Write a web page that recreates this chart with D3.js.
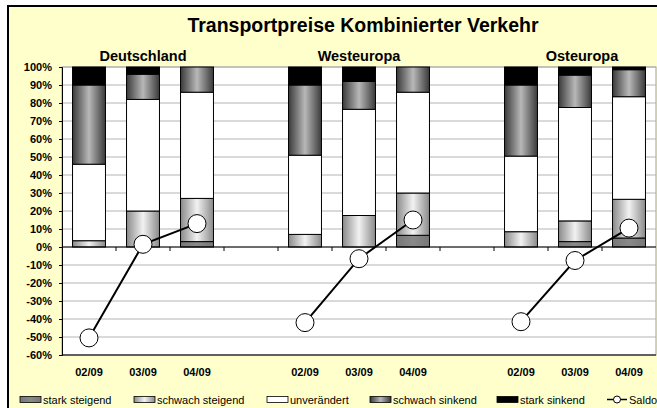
<!DOCTYPE html>
<html>
<head>
<meta charset="utf-8">
<script src="https://cdn.jsdelivr.net/npm/d3@7"></script>
<style>
  body { margin: 0; background: #fff; }
  text { font-family: "Liberation Sans", Arial, sans-serif; }
</style>
</head>
<body>
<svg id="chart" width="657" height="408"></svg>
<script>
// data
const regions = ["Deutschland", "Westeuropa", "Osteuropa"];
const months = ["02/09", "03/09", "04/09"];
// 11 slots: 3 bars per region, one empty slot between regions
const slotLabels = ["02/09", "03/09", "04/09", "", "02/09", "03/09", "04/09", "", "02/09", "03/09", "04/09"];
const barSlots = [0, 1, 2, 4, 5, 6, 8, 9, 10];

const starkSteigend   = [0, 0, 3, 0, 0, 6.5, 0, 3, 5];
const schwachSteigend = [3.5, 20, 24, 7, 17.5, 23.5, 8.5, 11.5, 21.5];
const unveraendert    = [42.5, 62, 59, 44, 59, 56, 42, 63, 57];
const schwachSinkend  = [44, 14, 14, 39, 15.5, 14, 39.5, 18, 15];
const starkSinkend    = [10, 4, 0, 10, 8, 0, 10, 4.5, 1.5];
const saldo           = [-50.5, 1.5, 13, -42, -6.5, 15, -41.5, -7.5, 10.5];

const seriesNames = ["stark steigend", "schwach steigend", "unverändert", "schwach sinkend", "stark sinkend"];
const seriesValues = [starkSteigend, schwachSteigend, unveraendert, schwachSinkend, starkSinkend];
const yTicks = d3.range(-60, 101, 10);

const svg = d3.select("#chart");

// gradients for the bar fills
const defs = svg.append("defs");
function addGradient(id, edge, mid) {
  const g = defs.append("linearGradient").attr("id", id)
    .attr("x1", "0%").attr("x2", "100%").attr("y1", "0%").attr("y2", "0%");
  g.append("stop").attr("offset", "0%").attr("stop-color", edge);
  g.append("stop").attr("offset", "50%").attr("stop-color", mid);
  g.append("stop").attr("offset", "100%").attr("stop-color", edge);
}
addGradient("g-stark-st", "#777", "#8a8a8a");
addGradient("g-schwach-st", "#8a8a8a", "#f2f2f2");
addGradient("g-schwach-si", "#3a3a3a", "#b8b8b8");
const fills = ["url(#g-stark-st)", "url(#g-schwach-st)", "#fff", "url(#g-schwach-si)", "#000"];

// chart frame (runs past the right and bottom edges)
svg.append("rect")
  .attr("x", 8).attr("y", 6).attr("width", 760).attr("height", 460)
  .attr("fill", "#FFFFCC").attr("stroke", "#000").attr("stroke-width", 2);

// scales
const x = d3.scaleBand()
  .domain(d3.range(slotLabels.length))
  .range([62, 656])
  .paddingInner(0.39)
  .paddingOuter(0.195);

const y = d3.scaleLinear()
  .domain([-60, 100])
  .range([355, 67]);

// plot area
svg.append("rect")
  .attr("x", 62).attr("y", y(100))
  .attr("width", 594).attr("height", y(-60) - y(100))
  .attr("fill", "#fff").attr("stroke", "#a0a0a0").attr("stroke-width", 1);

// gridlines
svg.append("g")
  .selectAll("line")
  .data(yTicks)
  .join("line")
  .attr("x1", 62).attr("x2", 656)
  .attr("y1", d => y(d)).attr("y2", d => y(d))
  .attr("stroke", "#b4b4b4").attr("stroke-width", 1);

// stacked bars
const stackData = barSlots.map((slot, i) => {
  const row = { slot: slot };
  seriesNames.forEach((n, k) => row[n] = seriesValues[k][i]);
  return row;
});
const stacked = d3.stack().keys(seriesNames)(stackData);

stacked.forEach((layer, k) => {
  svg.append("g")
    .selectAll("rect")
    .data(layer.filter(d => d[1] - d[0] > 0))
    .join("rect")
    .attr("x", d => x(d.data.slot))
    .attr("width", x.bandwidth())
    .attr("y", d => y(d[1]))
    .attr("height", d => y(d[0]) - y(d[1]))
    .attr("fill", fills[k])
    .attr("stroke", "#000")
    .attr("stroke-width", 1);
});

// y axis
const yAxis = svg.append("g")
  .attr("transform", "translate(62,0)")
  .call(d3.axisLeft(y).tickValues(yTicks).tickFormat(d => d + "%").tickSize(3).tickPadding(7));
yAxis.select(".domain").attr("stroke", "#000");
yAxis.selectAll("text")
  .attr("font-family", "Liberation Sans, Arial, sans-serif")
  .attr("font-size", 11).attr("font-weight", "bold").attr("fill", "#000");

// bottom border of plot
svg.append("line")
  .attr("x1", 62).attr("x2", 656)
  .attr("y1", y(-60)).attr("y2", y(-60))
  .attr("stroke", "#000");

// zero line with ticks between slots
svg.append("line")
  .attr("x1", 62).attr("x2", 656)
  .attr("y1", y(0)).attr("y2", y(0))
  .attr("stroke", "#000");
svg.append("g")
  .selectAll("line")
  .data(d3.range(1, slotLabels.length))
  .join("line")
  .attr("x1", i => x.range()[0] + i * x.step())
  .attr("x2", i => x.range()[0] + i * x.step())
  .attr("y1", y(0)).attr("y2", y(0) + 4)
  .attr("stroke", "#000");

// category labels
svg.append("g")
  .selectAll("text")
  .data(slotLabels.map((l, i) => ({ l, i })).filter(d => d.l !== ""))
  .join("text")
  .attr("x", d => x(d.i) + x.bandwidth() / 2)
  .attr("y", 376)
  .attr("text-anchor", "middle")
  .attr("font-size", 11).attr("font-weight", "bold")
  .text(d => d.l);

// saldo lines and markers, one line per region
const line = d3.line()
  .x(d => x(d.slot) + x.bandwidth() / 2)
  .y(d => y(d.v));
const saldoPts = barSlots.map((slot, i) => ({ slot, v: saldo[i], r: Math.floor(i / 3) }));
regions.forEach((r, ri) => {
  svg.append("path")
    .datum(saldoPts.filter(d => d.r === ri))
    .attr("d", line)
    .attr("fill", "none")
    .attr("stroke", "#000")
    .attr("stroke-width", 2);
});
svg.append("g")
  .selectAll("circle")
  .data(saldoPts)
  .join("circle")
  .attr("cx", d => x(d.slot) + x.bandwidth() / 2)
  .attr("cy", d => y(d.v))
  .attr("r", 9)
  .attr("fill", "#fff")
  .attr("stroke", "#000")
  .attr("stroke-width", 1);

// title and region labels
svg.append("text")
  .attr("x", 363).attr("y", 32)
  .attr("text-anchor", "middle")
  .attr("font-size", 19.5).attr("font-weight", "bold")
  .text("Transportpreise Kombinierter Verkehr");

const regionX = [143, 359, 582];
svg.append("g")
  .selectAll("text")
  .data(regions)
  .join("text")
  .attr("x", (d, i) => regionX[i])
  .attr("y", 61)
  .attr("text-anchor", "middle")
  .attr("font-size", 14.5).attr("font-weight", "bold")
  .text(d => d);

// legend
const legendX = [20, 134, 267, 370, 497];
const legend = svg.append("g");
seriesNames.forEach((n, k) => {
  legend.append("rect")
    .attr("x", legendX[k]).attr("y", 396.5)
    .attr("width", 21).attr("height", 6)
    .attr("fill", fills[k]).attr("stroke", "#000").attr("stroke-width", 0.8);
  legend.append("text")
    .attr("x", legendX[k] + 23).attr("y", 403.5)
    .attr("font-size", 11)
    .text(n);
});
legend.append("line")
  .attr("x1", 607).attr("x2", 627).attr("y1", 399.5).attr("y2", 399.5)
  .attr("stroke", "#000").attr("stroke-width", 1.5);
legend.append("circle")
  .attr("cx", 617).attr("cy", 399.5).attr("r", 3.5)
  .attr("fill", "#fff").attr("stroke", "#000");
legend.append("text")
  .attr("x", 629).attr("y", 403.5)
  .attr("font-size", 11)
  .text("Saldo");
</script>
</body>
</html>
